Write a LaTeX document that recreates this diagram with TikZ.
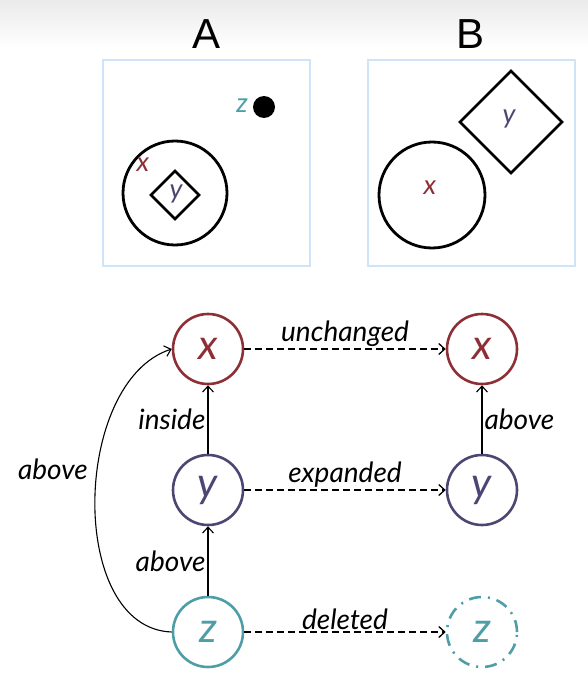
\documentclass[tikz,border=0pt]{standalone}
\usepackage{fontspec}
\setmainfont{Lato}
\newfontfamily\titlefont{Liberation Sans}
\usetikzlibrary{arrows.meta,shapes.geometric}
\definecolor{cx}{HTML}{8E2F36}
\definecolor{cy}{HTML}{4B4672}
\definecolor{cz}{HTML}{4E9EA8}
\definecolor{framec}{HTML}{CFE5F7}
\tikzset{
  gnode/.style={circle, minimum size=70pt, inner sep=0pt, line width=2.6pt,
    font=\fontsize{42}{42}\selectfont\itshape},
  lbl/.style={font=\fontsize{28}{28}\selectfont\itshape, text=black, inner sep=2pt},
  sol/.style={line width=1.1pt, -{Straight Barb[length=6pt,width=11pt]}},
  dsh/.style={line width=1.3pt, dash pattern=on 7pt off 4pt, -{Straight Barb[length=6pt,width=11pt]}},
  panel/.style={draw=framec, line width=2pt, minimum width=207pt, minimum height=206pt, inner sep=0pt},
  ttl/.style={font=\titlefont\fontsize{42}{42}\selectfont},
  shapeline/.style={line width=2.8pt, black},
  small/.style={font=\fontsize{27}{27}\selectfont\itshape, inner sep=0pt}
}
\begin{document}
\begin{tikzpicture}[x=1pt,y=-1pt]
\useasboundingbox (0,0) rectangle (588,690);
\shade[top color=black!8, bottom color=white] (0,0) rectangle (588,48);
% titles
\node[ttl] (tA) at (207,34) {A};
\node[ttl] (tB) at (470,34) {B};
% panels
\node[panel] (pA) at (206.5,163) {};
\node[panel] (pB) at (471,163) {};
% panel A content
\draw[shapeline] (175,193) circle[radius=52];
\draw[shapeline] (151,195) -- (175,171) -- (199,195) -- (175,219) -- cycle;
\node[small, text=cy] (ya) at (176,194) {y};
\node[small, text=cx] (xa) at (143,165) {x};
\fill (264,107) circle[radius=11];
\node[small, text=cz] (za) at (242,106) {z};
% panel B content
\draw[shapeline] (432,195) circle[radius=53];
\draw[shapeline] (460,122) -- (511,71) -- (562,122) -- (511,173) -- cycle;
\node[small, text=cx] (xb) at (430,188) {x};
\node[small, text=cy] (yb) at (509,119) {y};
% graph nodes
\node[gnode, draw=cx, text=cx] (x1) at (208,349) {x};
\node[gnode, draw=cy, text=cy] (y1) at (208,490) {y};
\node[gnode, draw=cz, text=cz] (z1) at (208,632) {z};
\node[gnode, draw=cx, text=cx] (x2) at (482,349) {x};
\node[gnode, draw=cy, text=cy] (y2) at (482,490) {y};
\node[gnode, draw=cz, text=cz, dash pattern=on 12pt off 7pt on 2pt off 7pt] (z2) at (482,632) {z};
% edges
\draw[sol] (y1) -- node[lbl, left] {inside} (x1);
\draw[sol] (z1) -- node[lbl, left] {above} (y1);
\draw[sol] (y2) -- node[lbl, right] {above} (x2);
\draw[sol] (z1.west) to[out=178, in=198, looseness=0.95] node[lbl, pos=0.58, left=7pt] {above} (x1.west);
\draw[dsh] (x1) -- node[lbl, above=0pt] {unchanged} (x2);
\draw[dsh] (y1) -- node[lbl, above=0pt] {expanded} (y2);
\draw[dsh] (z1) -- node[lbl, above=0pt] {deleted} (z2);
\end{tikzpicture}
\end{document}
